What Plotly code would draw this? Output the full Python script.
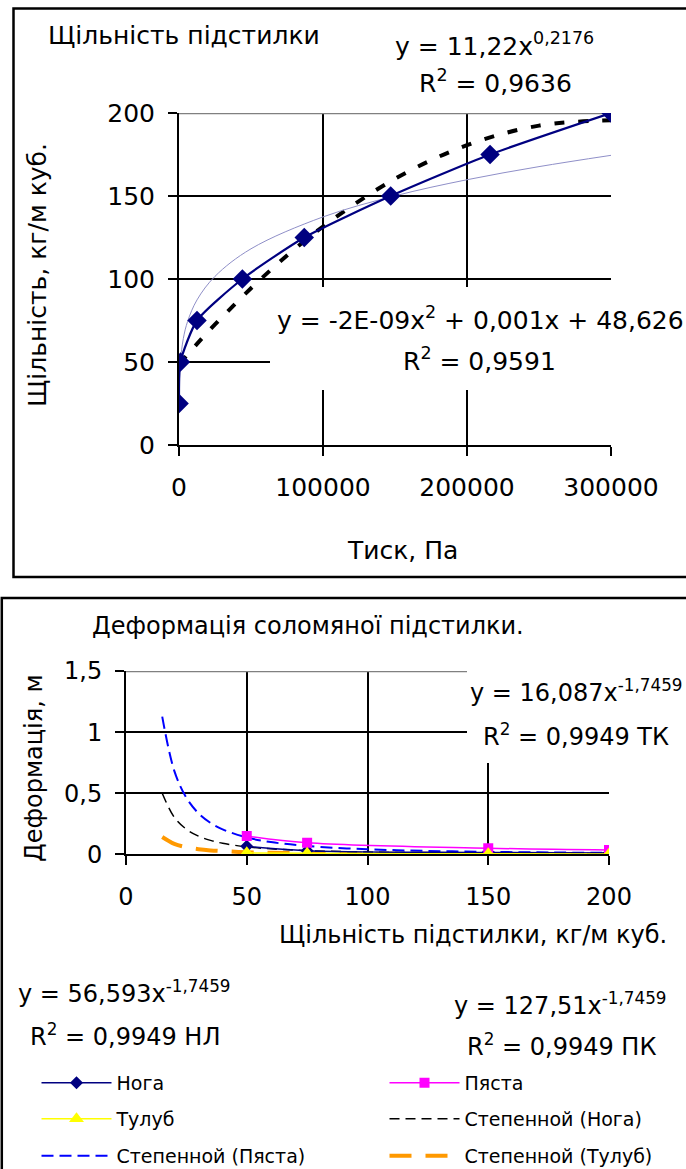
import plotly.graph_objects as go

W, H = 686, 1169
FONT = "DejaVu Sans"

# ---------------- data: top chart (Щільність підстилки) ----------------
press_x = [40, 1000, 12500, 44000, 87000, 147000, 216000, 300000]
dens_y = [25, 50, 75, 100, 125, 150, 175, 200]

# power trendline
pow_x = [40, 300, 1000, 3000, 6000, 12500, 25000, 50000, 100000, 150000, 200000, 250000, 300000]
pow_y = [25.0, 38.8, 50.4, 64.1, 74.5, 87.4, 101.6, 118.2, 137.4, 150.1, 159.8, 167.7, 174.5]

# polynomial trendline
poly_x = [40, 12500, 25000, 50000, 75000, 100000, 150000, 200000, 250000, 300000]
poly_y = [48.7, 60.9, 72.6, 94.4, 114.1, 131.6, 160.4, 180.6, 192.4, 195.6]

top_xticks = [0, 100000, 200000, 300000]
top_yticks = [0, 50, 100, 150, 200]

# ---------------- data: bottom chart (Деформація) ----------------
def_x = [50, 75, 150, 200]
noga_y = [0.065, 0.030, 0.015, 0.010]
pyasta_y = [0.150, 0.095, 0.050, 0.035]
tulub_y = [0.012, 0.008, 0.004, 0.003]

tr_x = [15, 20, 25, 30, 35, 40, 50, 60, 75, 100, 125, 150, 175, 200]
tr_noga = [0.500, 0.303, 0.205, 0.149, 0.114, 0.090, 0.061, 0.045, 0.030, 0.018, 0.012, 0.009, 0.007, 0.005]
tr_pyasta = [1.127, 0.683, 0.462, 0.336, 0.257, 0.204, 0.138, 0.100, 0.068, 0.041, 0.028, 0.020, 0.015, 0.012]
tr_tulub = [0.142, 0.086, 0.058, 0.042, 0.032, 0.026, 0.017, 0.013, 0.009, 0.005, 0.0035, 0.0025, 0.0019, 0.0015]

bot_xticks = [0, 50, 100, 150, 200]
bot_yticks = [0, 0.5, 1, 1.5]
bot_yticktext = ["0", "0,5", "1", "1,5"]


def px(x):
    return x / W


def py(y):
    return 1 - y / H


fig = go.Figure()

# ---- top chart traces ----
fig.add_trace(go.Scatter(x=poly_x, y=poly_y, mode="lines", xaxis="x", yaxis="y",
                         line=dict(color="black", width=4, dash="10px,14px", shape="spline"),
                         showlegend=False, hoverinfo="skip"))
fig.add_trace(go.Scatter(x=pow_x, y=pow_y, mode="lines", xaxis="x", yaxis="y",
                         line=dict(color="#8f8fc8", width=1, shape="spline"),
                         showlegend=False, hoverinfo="skip"))
fig.add_trace(go.Scatter(x=press_x, y=dens_y, mode="lines+markers", xaxis="x", yaxis="y",
                         line=dict(color="#000080", width=2.2, shape="spline", smoothing=0.6),
                         marker=dict(symbol="diamond", size=15, color="#000080"),
                         showlegend=False))

# ---- bottom chart traces (one legend per entry); trendlines drawn under the data ----
fig.add_trace(go.Scatter(x=tr_x, y=tr_tulub, name="Степенной (Тулуб)", mode="lines",
                         xaxis="x2", yaxis="y2", legend="legend6",
                         line=dict(color="#FF9900", width=4, dash="22px,14px", shape="spline")))
fig.add_trace(go.Scatter(x=tr_x, y=tr_noga, name="Степенной (Нога)", mode="lines",
                         xaxis="x2", yaxis="y2", legend="legend4",
                         line=dict(color="black", width=1.5, dash="10px,6px", shape="spline")))
fig.add_trace(go.Scatter(x=tr_x, y=tr_pyasta, name="Степенной (Пяста)", mode="lines",
                         xaxis="x2", yaxis="y2", legend="legend5",
                         line=dict(color="#0000FF", width=2, dash="12px,6px", shape="spline")))
fig.add_trace(go.Scatter(x=def_x, y=noga_y, name="Нога", mode="lines+markers",
                         xaxis="x2", yaxis="y2", legend="legend",
                         line=dict(color="#000080", width=1.5, shape="spline"),
                         marker=dict(symbol="diamond", size=10, color="#000080")))
fig.add_trace(go.Scatter(x=def_x, y=pyasta_y, name="Пяста", mode="lines+markers",
                         xaxis="x2", yaxis="y2", legend="legend2",
                         line=dict(color="#FF00FF", width=1.5, shape="spline"),
                         marker=dict(symbol="square", size=10, color="#FF00FF")))
fig.add_trace(go.Scatter(x=def_x, y=tulub_y, name="Тулуб", mode="lines+markers",
                         xaxis="x2", yaxis="y2", legend="legend3",
                         line=dict(color="#FFFF00", width=1.5, shape="spline"),
                         marker=dict(symbol="triangle-up", size=13, color="#FFFF00")))

axis_common = dict(showgrid=True, gridcolor="black", gridwidth=2, zeroline=False,
                   showline=True, linecolor="black", linewidth=2,
                   ticks="outside", ticklen=9, tickwidth=2, tickcolor="black",
                   color="black", automargin=False)

fig.update_layout(
    width=W, height=H,
    margin=dict(l=0, r=0, t=0, b=0, autoexpand=False),
    paper_bgcolor="white", plot_bgcolor="white",
    font=dict(family=FONT, color="black"),
    xaxis=dict(domain=[px(179), px(611)], range=[0, 300000], tickvals=top_xticks,
               ticktext=[str(v) for v in top_xticks], anchor="y",
               tickfont=dict(size=25, family=FONT), ticklabelstandoff=10, **axis_common),
    yaxis=dict(domain=[py(445), py(113)], range=[0, 200], tickvals=top_yticks,
               ticktext=[str(v) for v in top_yticks], anchor="x",
               tickfont=dict(size=25, family=FONT), ticklabelstandoff=8, **axis_common),
    xaxis2=dict(domain=[px(126), px(609)], range=[0, 200], tickvals=bot_xticks,
                ticktext=[str(v) for v in bot_xticks], anchor="y2",
                tickfont=dict(size=24, family=FONT), ticklabelstandoff=11, **axis_common),
    yaxis2=dict(domain=[py(854.3), py(671)], range=[0, 1.5], tickvals=bot_yticks,
                ticktext=bot_yticktext, anchor="x2",
                tickfont=dict(size=24, family=FONT), ticklabelstandoff=8, **axis_common),
    hovermode=False,
)

leg_common = dict(orientation="v", xanchor="left", yanchor="middle", itemwidth=70,
                  font=dict(size=19, family=FONT, color="black"),
                  bgcolor="rgba(0,0,0,0)", borderwidth=0)
col1, col2 = 36.5, 384.5
row1, row2, row3 = 1083, 1119, 1156
fig.update_layout(
    legend=dict(x=px(col1), y=py(row1), **leg_common),
    legend2=dict(x=px(col2), y=py(row1), **leg_common),
    legend3=dict(x=px(col1), y=py(row2), **leg_common),
    legend4=dict(x=px(col2), y=py(row2), **leg_common),
    legend5=dict(x=px(col1), y=py(row3), **leg_common),
    legend6=dict(x=px(col2), y=py(row3), **leg_common),
)

shapes = [
    # outer borders
    dict(type="rect", xref="paper", yref="paper", x0=px(13.5), x1=px(700), y0=py(577), y1=py(8.5),
         line=dict(color="black", width=2.5), fillcolor="rgba(0,0,0,0)", layer="below"),
    dict(type="rect", xref="paper", yref="paper", x0=px(1.8), x1=px(700), y0=py(1190), y1=py(598),
         line=dict(color="black", width=2.5), fillcolor="rgba(0,0,0,0)", layer="below"),
    # grey top borders of plot areas
    dict(type="line", xref="x", yref="y", x0=0, x1=300000, y0=200, y1=200,
         line=dict(color="#808080", width=2.5), layer="between"),
    dict(type="line", xref="x2", yref="y2", x0=0, x1=200, y0=1.5, y1=1.5,
         line=dict(color="#808080", width=2.5), layer="between"),
    # white boxes behind equation labels
    dict(type="rect", xref="paper", yref="paper", x0=px(270), x1=px(684), y0=py(390), y1=py(287),
         line=dict(width=0), fillcolor="white", layer="above"),
    dict(type="rect", xref="paper", yref="paper", x0=px(467), x1=px(684), y0=py(763), y1=py(662),
         line=dict(width=0), fillcolor="white", layer="above"),
]
fig.update_layout(shapes=shapes)


def ann(text, x, y, size, angle=0):
    return dict(text=text, x=px(x), y=py(y), xref="paper", yref="paper",
                xanchor="center", yanchor="middle", showarrow=False, textangle=angle,
                font=dict(size=size, family=FONT, color="black"))


annotations = [
    ann("Щільність підстилки", 184, 36, 25),
    ann("y = 11,22x<sup>0,2176</sup>", 494, 45, 25),
    ann("R<sup>2</sup> = 0,9636", 495, 82, 25),
    ann("y = -2E-09x<sup>2</sup> + 0,001x + 48,626", 480, 318, 25),
    ann("R<sup>2</sup> = 0,9591", 479, 359, 25),
    ann("Щільність, кг/м куб.", 37, 275, 25, -90),
    ann("Тиск, Па", 402, 550, 25),
    ann("Деформація соломяної підстилки.", 308, 626, 24),
    ann("Деформація, м", 34, 768, 24, -90),
    ann("Щільність підстилки, кг/м куб.", 473, 935, 24),
    ann("y = 16,087x<sup>-1,7459</sup>", 576, 691, 24),
    ann("R<sup>2</sup> = 0,9949 ТК", 576, 735, 24),
    ann("y = 56,593x<sup>-1,7459</sup>", 125, 992, 24),
    ann("R<sup>2</sup> = 0,9949 НЛ", 125, 1035, 24),
    ann("y = 127,51x<sup>-1,7459</sup>", 560, 1004, 24),
    ann("R<sup>2</sup> = 0,9949 ПК", 561, 1045, 24),
]
fig.update_layout(annotations=annotations)

# remove the browser's default 8px page margin so the figure fills the window
fig.write_html("out.html", config={"displayModeBar": False},
               post_script="document.body.style.margin='0px';")
